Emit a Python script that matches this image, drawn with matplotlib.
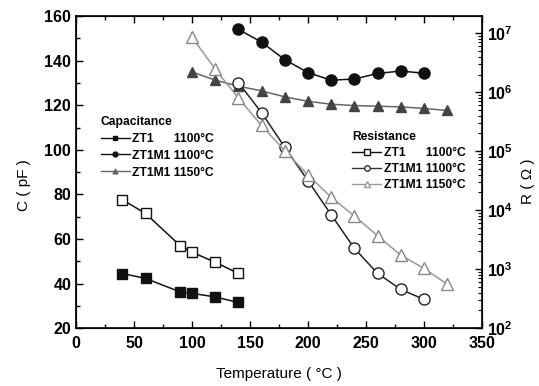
import matplotlib
matplotlib.use('Agg')
import matplotlib.pyplot as plt
from matplotlib.lines import Line2D
from matplotlib.ticker import MultipleLocator, LogLocator

plt.rcParams['font.family'] = ['Liberation Sans', 'DejaVu Sans']
plt.rcParams['font.weight'] = 'bold'

# capacitance (left axis, pF)
t_zt1_c = [40, 60, 90, 100, 120, 140]
c_zt1 = [44.5, 42.3, 36.2, 35.6, 34.0, 31.5]
t_m1100_c = [140, 160, 180, 200, 220, 240, 260, 280, 300]
c_m1100 = [154.1, 148.4, 140.5, 134.7, 131.3, 131.8, 134.3, 135.4, 134.4]
t_m1150_c = [100, 120, 140, 160, 180, 200, 220, 240, 260, 280, 300, 320]
c_m1150 = [135.0, 131.3, 128.6, 126.5, 123.8, 121.8, 120.5, 119.9, 119.6, 119.3, 118.6, 117.7]

# resistance (right axis, ohm)
t_zt1_r = [40, 60, 90, 100, 120, 140]
r_zt1 = [1.5e4, 8.8e3, 2.48e3, 1.94e3, 1.31e3, 845]
t_m1100_r = [140, 160, 180, 200, 220, 240, 260, 280, 300]
r_m1100 = [1.46e6, 4.52e5, 1.17e5, 3.17e4, 8.4e3, 2.26e3, 849, 454, 307]
t_m1150_r = [100, 120, 140, 160, 180, 200, 220, 240, 260, 280, 300, 320]
r_m1150 = [8.6e6, 2.47e6, 8.0e5, 2.74e5, 1.02e5, 3.96e4, 1.66e4, 7.98e3, 3.69e3, 1.73e3, 1.03e3, 558]

labels = ['ZT1      1100°C', 'ZT1M1 1100°C', 'ZT1M1 1150°C']

fig = plt.figure(figsize=(5.39, 3.86), dpi=100)
ax = fig.add_axes([0.141, 0.150, 0.753, 0.808])
ax2 = ax.twinx()

dark = '#111111'
light = '#999999'

ax.plot(t_zt1_c, c_zt1, color=dark, marker='s', ms=6.5, lw=1.1)
ax.plot(t_m1100_c, c_m1100, color=dark, marker='o', ms=8, lw=1.1)
ax.plot(t_m1150_c, c_m1150, color='#666666', marker='^', ms=7.5, mfc='#444444', mec='#444444', lw=1.1)

ax2.plot(t_zt1_r, r_zt1, color=dark, marker='s', ms=7, mfc='white', lw=1.1)
ax2.plot(t_m1100_r, r_m1100, color='#222222', marker='o', ms=8, mfc='white', lw=1.1)
ax2.plot(t_m1150_r, r_m1150, color=light, marker='^', ms=8, mfc='white', mec='#888888', lw=1.1)

ax.set_xlim(0, 350)
ax.set_ylim(20, 160)
ax2.set_yscale('log')
ax2.set_ylim(1e2, 10 ** 7.29)

ax.xaxis.set_major_locator(MultipleLocator(50))
ax.xaxis.set_minor_locator(MultipleLocator(25))
ax.yaxis.set_major_locator(MultipleLocator(20))
ax.yaxis.set_minor_locator(MultipleLocator(10))
ax2.yaxis.set_major_locator(LogLocator(base=10))
ax2.yaxis.set_minor_locator(LogLocator(base=10, subs=range(2, 10)))

ax.tick_params(which='both', direction='in', top=True, right=False, labelsize=11.5)
ax.tick_params(axis='x', pad=6)
ax.tick_params(which='major', length=5, width=1)
ax.tick_params(which='minor', length=3, width=1)
ax2.tick_params(which='both', direction='in', labelsize=11.5)
ax2.tick_params(which='major', length=5, width=1)
ax2.tick_params(which='minor', length=3, width=0.8)

ax.set_xlabel('Temperature ( °C )', fontsize=11)
ax.set_ylabel('C ( pF )', fontsize=11)
ax2.set_ylabel('R ( Ω )', fontsize=11, rotation=90)
ax.xaxis.set_label_coords(0.5, -0.125)
ax.yaxis.set_label_coords(-0.11, 0.46)
ax2.yaxis.set_label_coords(1.097, 0.47)

for sp in ax.spines.values():
    sp.set_linewidth(1.2)

cap_handles = [
    Line2D([], [], color=dark, marker='s', ms=3.5, lw=1),
    Line2D([], [], color=dark, marker='o', ms=3.5, lw=1),
    Line2D([], [], color='#666666', marker='^', ms=3.5, lw=1),
]
res_handles = [
    Line2D([], [], color=dark, marker='s', ms=4, mfc='white', lw=1),
    Line2D([], [], color='#333333', marker='o', ms=4, mfc='white', lw=1),
    Line2D([], [], color=light, marker='^', ms=4, mfc='white', lw=1),
]

leg1 = ax.legend(cap_handles, labels, title='Capacitance', loc='upper left',
                 bbox_to_anchor=(0.04, 0.707), frameon=False, fontsize=8.7,
                 title_fontsize=8.7, handlelength=2.4, handletextpad=0.2,
                 labelspacing=0.4, alignment='left', borderpad=0.2)
leg2 = ax2.legend(res_handles, labels, title='Resistance', loc='upper left',
                  bbox_to_anchor=(0.66, 0.66), frameon=False, fontsize=8.7,
                  title_fontsize=8.7, handlelength=2.4, handletextpad=0.2,
                  labelspacing=0.35, alignment='left', borderpad=0.2)

fig.savefig('out.png', dpi=100)
